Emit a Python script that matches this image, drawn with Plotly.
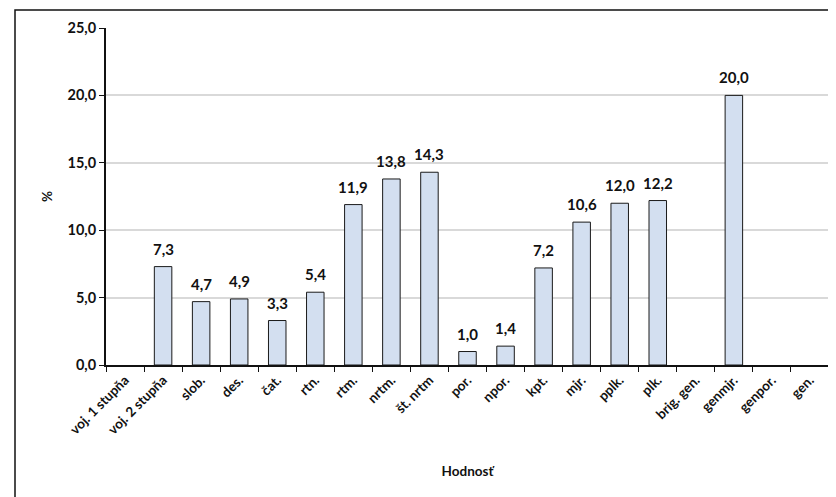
import plotly.graph_objects as go

categories = ["voj. 1 stupňa", "voj. 2 stupňa", "slob.", "des.", "čat.", "rtn.", "rtm.",
              "nrtm.", "št. nrtm", "por.", "npor.", "kpt.", "mjr.", "pplk.", "plk.",
              "brig. gen.", "genmjr.", "genpor.", "gen."]
values = [None, 7.3, 4.7, 4.9, 3.3, 5.4, 11.9, 13.8, 14.3, 1.0, 1.4, 7.2, 10.6, 12.0, 12.2,
          None, 20.0, None, None]
y_ticks = [0, 5, 10, 15, 20, 25]

FONT = "Lato, 'Open Sans', sans-serif"

fig = go.Figure()
fig.add_trace(go.Bar(
    x=categories, y=values, width=0.46,
    marker=dict(color="#d3dff0", line=dict(color="#1a1a1a", width=1)),
))

for c, v in zip(categories, values):
    if v is None:
        continue
    fig.add_annotation(
        x=c, y=v, text=f"{v:.1f}".replace(".", ","), showarrow=False,
        yanchor="bottom", yshift=7,
        font=dict(family=FONT, size=15, color="#111111", weight="bold"),
    )

L, R, T, B, W, H = 98, 7, 20, 132, 828, 489
pw, ph = W - L - R, H - T - B

fig.update_layout(
    width=W, height=H,
    margin=dict(l=L, r=R, t=T, b=B),
    paper_bgcolor="white", plot_bgcolor="white",
    separators=", ",
    showlegend=False,
    font=dict(family=FONT, color="#111111"),
    xaxis=dict(
        type="category", tickangle=-45, tickson="boundaries", automargin=False,
        ticks="outside", ticklen=5, tickcolor="#111111",
        showline=True, linecolor="#111111", linewidth=2,
        tickfont=dict(family=FONT, size=13.5, weight="bold"),
        title=dict(text="Hodnosť", font=dict(family=FONT, size=13.5, weight="bold"), standoff=30),
    ),
    yaxis=dict(
        range=[0, 25], tickvals=y_ticks, tickformat=".1f", automargin=False,
        ticks="outside", ticklen=5, tickcolor="#111111",
        showline=True, linecolor="#111111", linewidth=2,
        showgrid=True, gridcolor="#d9d9d9", gridwidth=1.5,
        zeroline=False,
        tickfont=dict(family=FONT, size=14.5, weight="bold"),
        title=dict(text="%", font=dict(family=FONT, size=13.5, weight="bold"), standoff=12),
    ),
    shapes=[dict(type="rect", xref="paper", yref="paper",
                 x0=(7 - L) / pw, x1=(W + 20 - L) / pw,
                 y0=(ph - (H + 20 - T)) / ph, y1=(ph - (2 - T)) / ph,
                 line=dict(color="#111111", width=1.5), fillcolor="rgba(0,0,0,0)", layer="below")],
)

fig.write_html("out.html")
